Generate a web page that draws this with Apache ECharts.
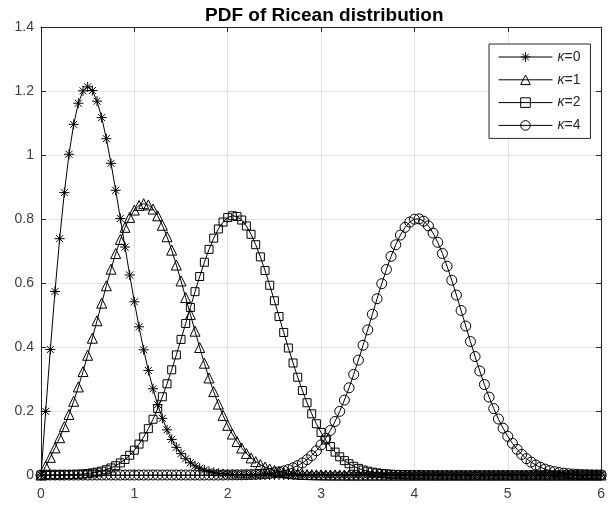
<!DOCTYPE html>
<html>
<head>
<meta charset="utf-8">
<script src="https://cdn.jsdelivr.net/npm/echarts@6/dist/echarts.min.js"></script>
<style>html,body{margin:0;padding:0;background:#fff}#c{width:608px;height:508px}</style>
</head>
<body>
<div id="c"></div>
<script>
var titleText = 'PDF of Ricean distribution';
var seriesNames = ['κ=0', 'κ=1', 'κ=2', 'κ=4'];
var xTicks = [0, 1, 2, 3, 4, 5, 6];
var yTicks = [0, 0.2, 0.4, 0.6, 0.8, 1, 1.2, 1.4];

var xValues = [
0,0.05,0.1,0.15,0.2,0.25,0.3,0.35,0.4,0.45,0.5,0.55,0.6,0.65,0.7,0.75,0.8,0.85,0.9,0.95,
1,1.05,1.1,1.15,1.2,1.25,1.3,1.35,1.4,1.45,1.5,1.55,1.6,1.65,1.7,1.75,1.8,1.85,1.9,1.95,
2,2.05,2.1,2.15,2.2,2.25,2.3,2.35,2.4,2.45,2.5,2.55,2.6,2.65,2.7,2.75,2.8,2.85,2.9,2.95,
3,3.05,3.1,3.15,3.2,3.25,3.3,3.35,3.4,3.45,3.5,3.55,3.6,3.65,3.7,3.75,3.8,3.85,3.9,3.95,
4,4.05,4.1,4.15,4.2,4.25,4.3,4.35,4.4,4.45,4.5,4.55,4.6,4.65,4.7,4.75,4.8,4.85,4.9,4.95,
5,5.05,5.1,5.15,5.2,5.25,5.3,5.35,5.4,5.45,5.5,5.55,5.6,5.65,5.7,5.75,5.8,5.85,5.9,5.95,
6];

var pdfK0 = [
0,0.199,0.3921,0.5736,0.7385,0.8825,1.0023,1.0958,1.1618,1.2006,1.2131,1.2014,1.1682,1.1169,1.0509,0.974,0.8897,0.8016,0.7124,0.625,
0.5413,0.4631,0.3912,0.3266,0.2694,0.2197,0.1771,0.1411,0.1111,0.0865,0.0667,0.0508,0.0383,0.0285,0.021,0.0153,0.0111,0.0079,0.0056,0.0039,
0.0027,0.0018,0.0012,0.0008,0.0006,0.0004,0.0002,0.0001,0,0,0,0,0,0,0,0,0,0,0,0,
0,0,0,0,0,0,0,0,0,0,0,0,0,0,0,0,0,0,0,0,
0,0,0,0,0,0,0,0,0,0,0,0,0,0,0,0,0,0,0,0,
0,0,0,0,0,0,0,0,0,0,0,0,0,0,0,0,0,0,0,0,
0];

var pdfK1 = [
0,0.0272,0.0552,0.0848,0.1166,0.1512,0.1891,0.2304,0.2752,0.3233,0.3742,0.4275,0.4821,0.5371,0.5913,0.6433,0.692,0.736,0.774,0.805,
0.828,0.8424,0.8478,0.8439,0.8311,0.8099,0.7805,0.7445,0.7027,0.6562,0.6064,0.5545,0.5018,0.4494,0.3983,0.3494,0.3033,0.2605,0.2215,0.1864,
0.1553,0.128,0.1045,0.0844,0.0674,0.0534,0.0418,0.0324,0.0249,0.0189,0.0142,0.0106,0.0078,0.0057,0.0041,0.0029,0.0021,0.0015,0.001,0.0007,
0.0005,0.0003,0.0002,0.0001,0.0001,0,0,0,0,0,0,0,0,0,0,0,0,0,0,0,
0,0,0,0,0,0,0,0,0,0,0,0,0,0,0,0,0,0,0,0,
0,0,0,0,0,0,0,0,0,0,0,0,0,0,0,0,0,0,0,0,
0];

var pdfK2 = [
0,0.0001,0.0002,0.0003,0.0004,0.0007,0.001,0.0015,0.0022,0.0032,0.0046,0.0065,0.0089,0.0122,0.0165,0.022,0.0289,0.0377,0.0485,0.0617,
0.0776,0.0966,0.1189,0.1447,0.1742,0.2075,0.2445,0.285,0.3288,0.3752,0.4237,0.4734,0.5235,0.5729,0.6203,0.6648,0.7051,0.7401,0.7688,0.7904,
0.8044,0.8101,0.8076,0.7968,0.7782,0.7522,0.7197,0.6816,0.6389,0.5929,0.5445,0.4951,0.4455,0.3969,0.35,0.3055,0.264,0.2258,0.1912,0.1602,
0.133,0.1092,0.0888,0.0715,0.0569,0.0449,0.0351,0.0271,0.0207,0.0157,0.0118,0.0087,0.0064,0.0047,0.0034,0.0024,0.0017,0.0012,0.0008,0.0006,
0.0004,0.0003,0.0002,0.0001,0.0001,0,0,0,0,0,0,0,0,0,0,0,0,0,0,0,
0,0,0,0,0,0,0,0,0,0,0,0,0,0,0,0,0,0,0,0,
0];

var pdfK4 = [
0,0,0,0,0,0,0,0,0,0,0,0,0,0,0,0,0,0,0,0,
0,0,0,0,0,0,0,0,0,0,0,0,0,0,0,0,0,0,0,0,
0.0002,0.0003,0.0004,0.0006,0.0009,0.0013,0.0019,0.0026,0.0037,0.0051,0.007,0.0095,0.0128,0.017,0.0224,0.0292,0.0376,0.048,0.0606,0.0757,
0.0938,0.1149,0.1394,0.1673,0.1989,0.2341,0.2726,0.3144,0.3589,0.4056,0.4537,0.5024,0.5509,0.5978,0.6423,0.6832,0.7194,0.7498,0.7738,0.7905,
0.7994,0.8004,0.7933,0.7784,0.7561,0.7271,0.6922,0.6524,0.6087,0.5623,0.5142,0.4655,0.4172,0.3702,0.3251,0.2827,0.2434,0.2075,0.175,0.1462,
0.1209,0.099,0.0802,0.0644,0.0511,0.0402,0.0313,0.0241,0.0184,0.0139,0.0104,0.0077,0.0057,0.0041,0.0029,0.0021,0.0015,0.001,0.0007,0.0005,
0.0003];

var seriesValues = [pdfK0, pdfK1, pdfK2, pdfK4];
var asteriskPath = 'path://M5,0L5,10M0,5L10,5M1.5,1.5L8.5,8.5M1.5,8.5L8.5,1.5';
var symbols = [asteriskPath, 'triangle', 'rect', 'circle'];
var symbolSizes = [10, 10, 8, 10];

var FONT = '"Liberation Sans", Arial, Helvetica, sans-serif';
var AXIS_COLOR = '#262626';
var LABEL_COLOR = '#404040';
var GRID_COLOR = '#e2e2e2';

function pairs(vals) {
  return xValues.map(function (x, i) { return [x, vals[i]]; });
}

var series = seriesNames.map(function (name, i) {
  return {
    name: name,
    type: 'line',
    data: pairs(seriesValues[i]),
    symbol: symbols[i],
    symbolSize: symbolSizes[i],
    symbolKeepAspect: true,
    showSymbol: true,
    lineStyle: { color: '#000', width: 1 },
    itemStyle: { color: 'rgba(0,0,0,0)', borderColor: '#000', borderWidth: 1 },
    emphasis: { disabled: true },
    animation: false
  };
});

var chart = echarts.init(document.getElementById('c'), null, { renderer: 'canvas' });
chart.setOption({
  animation: false,
  backgroundColor: '#fff',
  title: {
    text: titleText,
    left: 200,
    top: 1,
    textStyle: { fontFamily: FONT, fontSize: 19, fontWeight: 'bold', color: '#000' }
  },
  legend: {
    orient: 'vertical',
    left: 489,
    top: 44,
    itemWidth: 54,
    itemHeight: 12,
    itemGap: 8.8,
    padding: [6, 10, 6, 9],
    borderColor: AXIS_COLOR,
    borderWidth: 1,
    borderRadius: 0,
    backgroundColor: '#fff',
    data: seriesNames,
    itemStyle: { borderWidth: 1, borderColor: '#000', color: 'rgba(0,0,0,0)' },
    lineStyle: { width: 1, color: '#000' },
    formatter: function (n) { return '{k|κ}' + n.slice(1); },
    textStyle: {
      fontFamily: FONT, fontSize: 14, color: '#262626',
      rich: { k: { fontStyle: 'italic', fontFamily: FONT, fontSize: 14, color: '#262626' } }
    }
  },
  grid: { left: 41, right: 4, top: 27, bottom: 33, containLabel: false, show: false },
  xAxis: [
    {
      type: 'value', min: 0, max: 6, interval: 1, position: 'bottom',
      axisLine: { show: true, onZero: false, lineStyle: { color: AXIS_COLOR, width: 1 } },
      axisTick: { show: true, inside: true, length: 5, lineStyle: { color: AXIS_COLOR } },
      axisLabel: { fontFamily: FONT, fontSize: 14, color: LABEL_COLOR, margin: 12 },
      splitLine: { show: true, lineStyle: { color: GRID_COLOR, width: 1 } }
    },
    {
      type: 'value', min: 0, max: 6, interval: 1, position: 'top',
      axisLine: { show: true, onZero: false, lineStyle: { color: AXIS_COLOR, width: 1 } },
      axisTick: { show: true, inside: true, length: 5, lineStyle: { color: AXIS_COLOR } },
      axisLabel: { show: false },
      splitLine: { show: false }
    }
  ],
  yAxis: [
    {
      type: 'value', min: 0, max: 1.4, interval: 0.2, position: 'left',
      axisLine: { show: true, onZero: false, lineStyle: { color: AXIS_COLOR, width: 1 } },
      axisTick: { show: true, inside: true, length: 5, lineStyle: { color: AXIS_COLOR } },
      axisLabel: {
        fontFamily: FONT, fontSize: 14, color: LABEL_COLOR, margin: 7,
        formatter: function (v) { return String(Math.round(v * 10) / 10); }
      },
      splitLine: { show: true, lineStyle: { color: GRID_COLOR, width: 1 } }
    },
    {
      type: 'value', min: 0, max: 1.4, interval: 0.2, position: 'right',
      axisLine: { show: true, onZero: false, lineStyle: { color: AXIS_COLOR, width: 1 } },
      axisTick: { show: true, inside: true, length: 5, lineStyle: { color: AXIS_COLOR } },
      axisLabel: { show: false },
      splitLine: { show: false }
    }
  ],
  series: series
});
</script>
</body>
</html>
